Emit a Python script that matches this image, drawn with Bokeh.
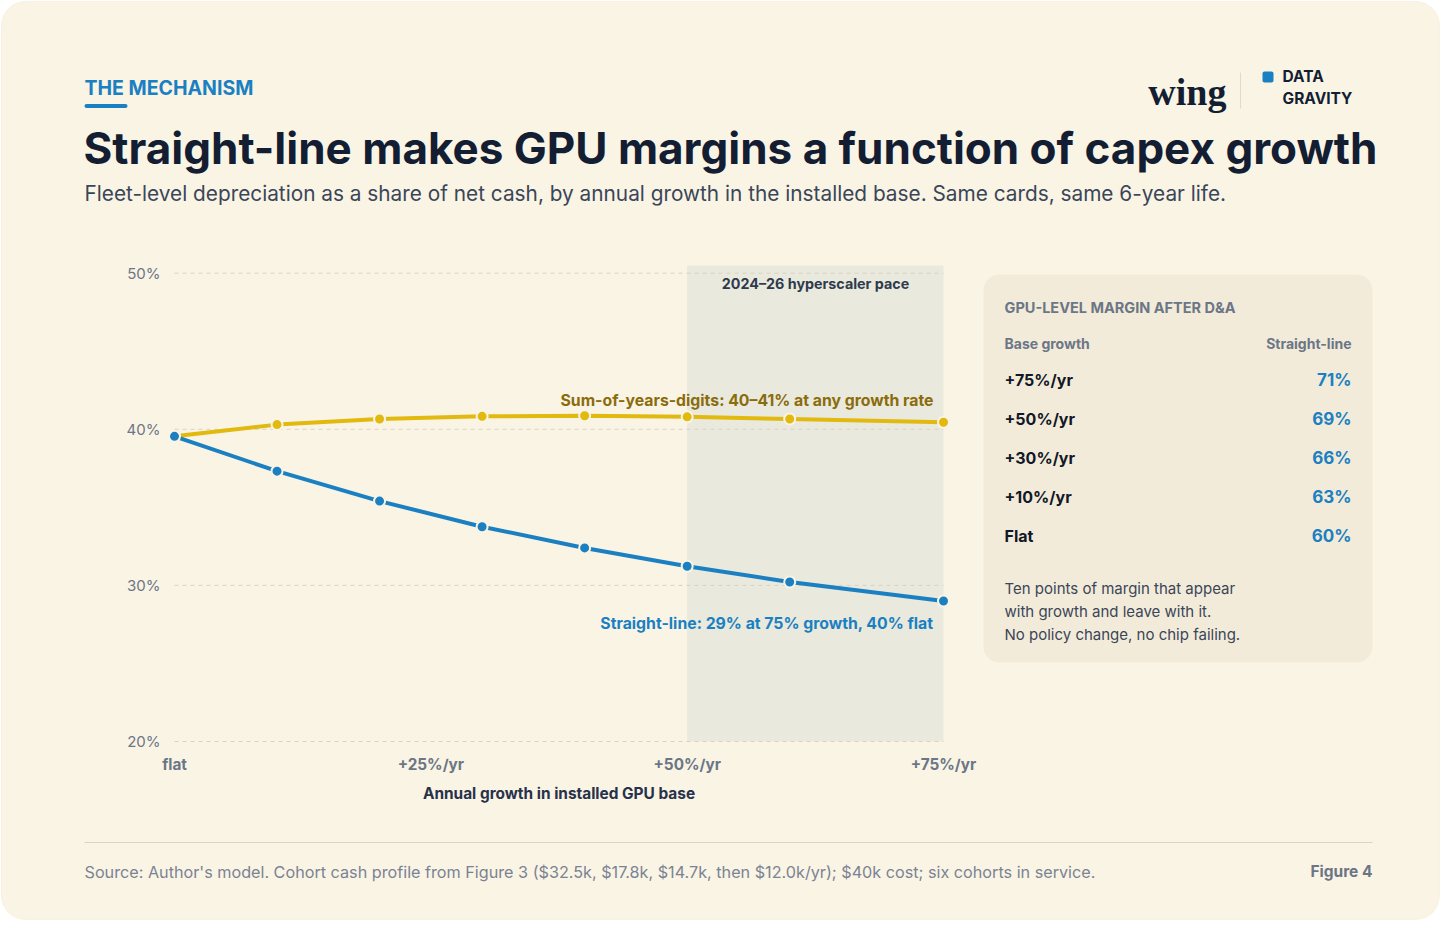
from bokeh.plotting import figure
from bokeh.models import Range1d, Label, BoxAnnotation
from bokeh.core.properties import value
from bokeh.embed import file_html
from bokeh.resources import INLINE

# ---------------- data ----------------
growth = [0, 10, 20, 30, 40, 50, 60, 75]
syd_share = [39.55, 40.30, 40.66, 40.83, 40.87, 40.80, 40.66, 40.45]
sl_share = [39.55, 37.32, 35.40, 33.76, 32.40, 31.23, 30.22, 29.00]
x_ticks = [0, 25, 50, 75]
x_tick_labels = ["flat", "+25%/yr", "+50%/yr", "+75%/yr"]
y_ticks = [20, 30, 40, 50]
y_tick_labels = ["20%", "30%", "40%", "50%"]
pace_start, pace_end = 50, 75
table_growth = ["+75%/yr", "+50%/yr", "+30%/yr", "+10%/yr", "Flat"]
table_margin = ["71%", "69%", "66%", "63%", "60%"]
note_lines = ["Ten points of margin that appear",
              "with growth and leave with it.",
              "No policy change, no chip failing."]

# ---------------- styles ----------------
FONT = "Inter"
BLUE = "#1b80c1"
YELLOW = "#e2b90f"
OLIVE = "#8a6c0c"
NAVY = "#131e33"
SLATE = "#3a4658"
GREY = "#6b7686"
CARD = "#faf4e5"

W, H = 1440, 920
# chart area placement on the canvas (pixels)
X0_PX, X75_PX = 174, 943
Y20_PX, Y50_PX = 741, 272.7
PXG = (X75_PX - X0_PX) / 75.0
PYV = (Y20_PX - Y50_PX) / 30.0

p = figure(width=W, height=H, output_backend="svg", toolbar_location=None,
           x_range=Range1d(-X0_PX / PXG, (W - X0_PX) / PXG),
           y_range=Range1d(20 - (H - Y20_PX) / PYV, 20 + Y20_PX / PYV),
           x_axis_location=None, y_axis_location=None, min_border=0)
p.outline_line_color = None
p.background_fill_color = None
p.border_fill_color = "#fdfbf6"
p.grid.visible = False

# canvas-pixel coordinate system for layout elements
p.extra_x_ranges = {"px": Range1d(0, W)}
p.extra_y_ranges = {"py": Range1d(H, 0)}


def box(l, r, t, b, color, radius=0, line=None, level="image", xr="px", yr="py"):
    bx = BoxAnnotation(left=l, right=r, top=t, bottom=b,
                       x_range_name=xr, y_range_name=yr,
                       fill_color=color, fill_alpha=1.0,
                       line_color=line, line_width=1 if line else 0,
                       border_radius=radius, level=level)
    p.add_layout(bx)
    return bx


def label(x, y, text, size=15, color=SLATE, bold=False, align="left", font=FONT):
    lb = Label(x=x, y=y, x_range_name="px", y_range_name="py", text=text,
               text_font=font, text_font_size=f"{size}px",
               text_font_style="bold" if bold else "normal",
               text_color=color, text_align=align, text_baseline="middle")
    p.add_layout(lb)
    return lb


# card
box(1, W - 1, 1, H - 1, CARD, radius=24, line="#eae0c8")

# highlighted growth region (x in data units)
box(pace_start, pace_end, 265, Y20_PX, "#e9e9dd", xr="default")

# side panel
box(983, 1372, 274, 662, "#f3ebd9", radius=16)

# header / footer decorations
box(84, 127, 103.5, 107.5, BLUE, radius=2)
box(1239.5, 1240.5, 72, 108, "#e3d9c4")
box(1262, 1273, 71, 82, BLUE, radius=2)
box(84, 1372, 841.5, 842.5, "#ddd4bf")

# ---------------- grid & tick labels ----------------
n = len(y_ticks)
p.segment(x0=[x_ticks[0]] * n, x1=[x_ticks[-1]] * n, y0=y_ticks, y1=y_ticks,
          line_color="#d9d2c2", line_width=1, line_dash="4 4", level="underlay")
p.text(x=[x_ticks[0]] * n, y=y_ticks, text=y_tick_labels, x_offset=-14,
       text_align="right", text_baseline="middle", text_font=value(FONT),
       text_font_size="15px", text_color=GREY)
p.text(x=x_ticks, y=[y_ticks[0]] * len(x_ticks), text=x_tick_labels, y_offset=23,
       text_align="center", text_baseline="middle", text_font=value(FONT),
       text_font_size="15.3px", text_font_style="bold", text_color=GREY)
p.text(x=[(x_ticks[0] + x_ticks[-1]) / 2], y=[y_ticks[0]], text=["Annual growth in installed GPU base"],
       y_offset=52, text_align="center", text_baseline="middle", text_font=value(FONT),
       text_font_size="15.4px", text_font_style="bold", text_color="#27324a")

# ---------------- series ----------------
p.line(growth, syd_share, line_width=4, line_color=YELLOW)
p.scatter(growth, syd_share, size=11, fill_color=YELLOW, line_color=CARD, line_width=2)
p.line(growth, sl_share, line_width=4, line_color=BLUE)
p.scatter(growth, sl_share, size=11, fill_color=BLUE, line_color=CARD, line_width=2)

# chart annotations
label(815, 283, "2024\u201326 hyperscaler pace", 14.3, "#2f3a4d", True, "center")
label(933, 400, "Sum-of-years-digits: 40\u201341% at any growth rate", 15.8, OLIVE, True, "right")
label(933, 623, "Straight-line: 29% at 75% growth, 40% flat", 15.8, BLUE, True, "right")

# ---------------- header ----------------
label(84, 87, "THE MECHANISM", 19.5, BLUE, True)
label(83, 147, "Straight-line makes GPU margins a function of capex growth", 44, NAVY, True)
label(84, 193, "Fleet-level depreciation as a share of net cash, by annual growth in the installed base. "
               "Same cards, same 6-year life.", 20.8, SLATE)
label(1226, 91, "wing", 38, NAVY, True, "right", font="Liberation Serif")
label(1282, 76, "DATA", 15.5, NAVY, True)
label(1282, 98, "GRAVITY", 15.5, NAVY, True)

# ---------------- side panel ----------------
label(1004, 307, "GPU-LEVEL MARGIN AFTER D&A", 14.5, GREY, True)
label(1004, 343, "Base growth", 14, GREY, True)
label(1351, 343, "Straight-line", 14, GREY, True, "right")
row_y = [379, 418, 457, 496, 535]
for yy, g, m in zip(row_y, table_growth, table_margin):
    label(1004, yy, g, 16, "#111827", True)
    label(1351, yy, m, 17, BLUE, True, "right")
for yy, t in zip([588, 611, 634], note_lines):
    label(1004, yy, t, 15, SLATE)

# ---------------- footer ----------------
label(84, 871, "Source: Author's model. Cohort cash profile from Figure 3 ($32.5k, $17.8k, $14.7k, "
               "then $12.0k/yr); $40k cost; six cohorts in service.", 16.2, "#7a8393")
label(1372, 871, "Figure 4", 15.5, "#6b7585", True, "right")

open("out.html", "w").write(file_html(p, INLINE))
